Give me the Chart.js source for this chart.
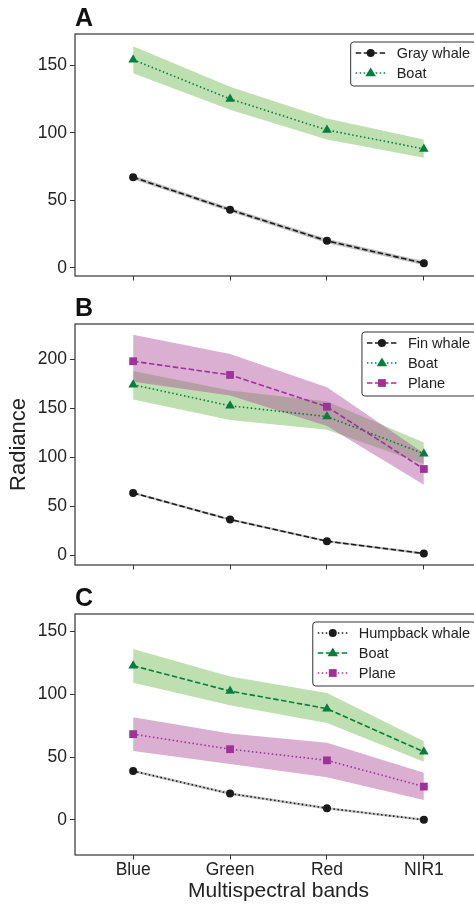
<!DOCTYPE html>
<html><head><meta charset="utf-8">
<script src="https://cdn.jsdelivr.net/npm/chart.js@4.4.1/dist/chart.umd.min.js"></script>
<style>
html,body{margin:0;padding:0;background:#fff;overflow:hidden;width:474px;height:905px;}
canvas{position:absolute;left:0;display:block;}
</style></head><body>
<canvas id="cA" width="500" height="290" style="top:0"></canvas>
<canvas id="cB" width="500" height="290" style="top:290px"></canvas>
<canvas id="cC" width="500" height="325" style="top:580px"></canvas>
<script>
const bands = ['Blue', 'Green', 'Red', 'NIR1'];

// Panel A
const grayWhale   = [67, 43, 20, 3.5];
const grayWhaleLo = [65.5, 41.5, 18.5, 2];
const grayWhaleHi = [68.5, 44.5, 21.5, 5];
const boatA   = [154, 125, 102, 88];
const boatALo = [144, 117, 95, 81.5];
const boatAHi = [164, 134, 110.5, 95];

// Panel B
const finWhale   = [63.6, 36.4, 14.3, 1.7];
const finWhaleLo = [62.4, 35.2, 13.1, 0.5];
const finWhaleHi = [64.8, 37.6, 15.5, 2.9];
const boatB   = [174, 152.5, 141.5, 103.6];
const boatBLo = [159, 138, 128, 93];
const boatBHi = [188, 168, 157, 115];
const planeB   = [198, 184, 151.5, 88];
const planeBLo = [177, 163, 132, 72];
const planeBHi = [225, 205.5, 171.5, 104];

// Panel C
const humpback   = [38.9, 20.9, 9.3, 0];
const humpbackLo = [37.9, 19.9, 8.3, -1];
const humpbackHi = [39.9, 21.9, 10.3, 1];
const boatC   = [122.8, 102.6, 88.6, 54.2];
const boatCLo = [109.3, 91.3, 77.2, 46.3];
const boatCHi = [136.2, 114.3, 101, 62.7];
const planeC   = [68.3, 56.3, 47.4, 26.5];
const planeCLo = [54.8, 44.4, 33.9, 15.9];
const planeCHi = [81.7, 68.8, 61.4, 37.5];

const ticksA = [0, 50, 100, 150];
const ticksB = [0, 50, 100, 150, 200];
const ticksC = [0, 50, 100, 150];

const FONT = '"Liberation Sans", Arial, Helvetica, sans-serif';
Chart.defaults.font.family = FONT;
Chart.defaults.color = '#222';

const BLACK = '#1a1a1a', GREEN = '#00803c', PURPLE = '#a0309a';
const GREEN_BAND = 'rgba(125,193,97,0.5)', PURPLE_BAND = 'rgba(173,77,153,0.45)', GRAY_BAND = 'rgba(120,120,120,0.45)';
const DASH = [5.5, 2.5], DOT = [1.5, 2.5];

const pts = arr => arr.map((v, i) => ({x: i, y: v}));

function band(lo, hi, color, order, baseIndex) {
  return [
    {label: '', data: pts(lo), borderWidth: 0, pointRadius: 0, fill: false, order: order, borderColor: 'transparent'},
    {label: '', data: pts(hi), borderWidth: 0, pointRadius: 0, fill: {target: baseIndex}, backgroundColor: color, borderColor: 'transparent', order: order}
  ];
}
function line(label, vals, color, dash, style, radius, order) {
  return {label, data: pts(vals), borderColor: color, backgroundColor: color, borderWidth: 1.6,
    borderDash: dash, pointStyle: style, pointRadius: radius, pointBorderWidth: 0,
    pointBackgroundColor: color, fill: false, order: order, tension: 0};
}

const frame = {
  id: 'frame',
  afterDatasetsDraw(chart) {
    const {ctx, chartArea: a} = chart;
    ctx.save();
    ctx.strokeStyle = '#333';
    ctx.lineWidth = 1.2;
    ctx.strokeRect(a.left, a.top, a.right - a.left, a.bottom - a.top);
    ctx.restore();
  }
};

function marker(ctx, style, x, y, r) {
  ctx.beginPath();
  if (style === 'circle') {
    ctx.arc(x, y, r, 0, Math.PI * 2);
  } else if (style === 'triangle') {
    ctx.moveTo(x, y - r);
    ctx.lineTo(x + r * 0.866 * 1.1, y + r * 0.6);
    ctx.lineTo(x - r * 0.866 * 1.1, y + r * 0.6);
    ctx.closePath();
  } else {
    const s = r * Math.SQRT1_2;
    ctx.rect(x - s, y - s, 2 * s, 2 * s);
  }
  ctx.fill();
}

const insideLegend = {
  id: 'insideLegend',
  afterDraw(chart) {
    const {ctx, chartArea: a} = chart;
    const items = chart.data.datasets.filter(d => d.label);
    ctx.save();
    ctx.font = '14.5px ' + FONT;
    const tw = Math.max(...items.map(d => ctx.measureText(d.label).width));
    const right = a.right - 6, top = a.top + 8;
    const w = 5 + 30 + 11 + tw + 6, h = 24 + 20 * (items.length - 1);
    const left = right - w;
    ctx.beginPath();
    if (ctx.roundRect) ctx.roundRect(left, top, w, h, 3); else ctx.rect(left, top, w, h);
    ctx.fillStyle = 'rgba(255,255,255,0.85)';
    ctx.fill();
    ctx.strokeStyle = '#333';
    ctx.lineWidth = 1;
    ctx.stroke();
    items.forEach((d, i) => {
      const y = top + 11 + 20 * i;
      const x0 = left + 5;
      ctx.save();
      ctx.strokeStyle = d.borderColor;
      ctx.lineWidth = d.borderWidth;
      ctx.setLineDash(d.borderDash || []);
      ctx.beginPath();
      ctx.moveTo(x0, y);
      ctx.lineTo(x0 + 30, y);
      ctx.stroke();
      ctx.restore();
      ctx.fillStyle = d.pointBackgroundColor;
      marker(ctx, d.pointStyle, x0 + 15, y, d.pointRadius);
      ctx.fillStyle = '#222';
      ctx.textBaseline = 'middle';
      ctx.textAlign = 'left';
      ctx.fillText(d.label, x0 + 41, y + 1);
    });
    ctx.restore();
  }
};

function makeChart(id, letter, datasets, ymin, ymax, yticks, opts) {
  const xH = opts.xHeight;
  new Chart(document.getElementById(id), {
    type: 'line',
    data: {datasets},
    options: {
      responsive: false,
      animation: false,
      layout: {padding: {left: 0, right: 18, top: 0, bottom: 0}},
      plugins: {
        legend: {display: false},
        tooltip: {enabled: false},
        title: {display: true, text: letter, align: 'start', fullSize: false,
          font: {size: 25, weight: 'bold'}, color: '#111', padding: {top: 4, bottom: 0}}
      },
      scales: {
        x: {
          type: 'linear', min: -0.6, max: 3.6,
          afterBuildTicks: s => { s.ticks = bands.map((b, i) => ({value: i})); },
          afterFit: s => { s.height = xH; },
          ticks: {display: opts.xLabels, autoSkip: false, maxRotation: 0, padding: 0,
            font: {size: 17.5}, color: '#222', callback: v => bands[v] !== undefined ? bands[v] : ''},
          grid: {display: true, drawOnChartArea: false, drawTicks: true, tickLength: 4.5, color: '#333', lineWidth: 1},
          border: {display: false},
          title: {display: opts.xLabels, text: 'Multispectral bands', font: {size: 21}, color: '#222', padding: {top: 0, bottom: 1}}
        },
        y: {
          min: ymin, max: ymax,
          afterBuildTicks: s => { s.ticks = yticks.map(v => ({value: v})); },
          afterFit: s => { s.width = 75; },
          ticks: {font: {size: 17.5}, color: '#222', padding: 3},
          grid: {display: true, drawOnChartArea: false, drawTicks: true, tickLength: 5, color: '#333', lineWidth: 1},
          border: {display: false},
          title: {display: !!opts.yTitle, text: opts.yTitle || '', font: {size: 22}, color: '#222', padding: {top: 6, bottom: 0}}
        }
      }
    },
    plugins: [frame, insideLegend]
  });
}

makeChart('cA', 'A', [
  line('Gray whale', grayWhale, BLACK, DASH, 'circle', 4, 1),
  line('Boat', boatA, GREEN, DOT, 'triangle', 5.5, 0),
  ...band(grayWhaleLo, grayWhaleHi, GRAY_BAND, 20, 2),
  ...band(boatALo, boatAHi, GREEN_BAND, 20, 4)
], -6, 173, ticksA, {xHeight: 14, xLabels: false});

makeChart('cB', 'B', [
  line('Fin whale', finWhale, BLACK, DASH, 'circle', 4, 2),
  line('Boat', boatB, GREEN, DOT, 'triangle', 5.5, 1),
  line('Plane', planeB, PURPLE, DASH, 'rect', 5.5, 0),
  ...band(finWhaleLo, finWhaleHi, GRAY_BAND, 30, 3),
  ...band(boatBLo, boatBHi, GREEN_BAND, 30, 5),
  ...band(planeBLo, planeBHi, PURPLE_BAND, 20, 7)
], -10, 236, ticksB, {xHeight: 15, xLabels: false, yTitle: 'Radiance'});

makeChart('cC', 'C', [
  line('Humpback whale', humpback, BLACK, DOT, 'circle', 4, 2),
  line('Boat', boatC, GREEN, DASH, 'triangle', 5.5, 1),
  line('Plane', planeC, PURPLE, DOT, 'rect', 5.5, 0),
  ...band(humpbackLo, humpbackHi, GRAY_BAND, 30, 3),
  ...band(boatCLo, boatCHi, GREEN_BAND, 30, 5),
  ...band(planeCLo, planeCHi, PURPLE_BAND, 30, 7)
], -28, 164, ticksC, {xHeight: 50, xLabels: true});
</script>
</body></html>
